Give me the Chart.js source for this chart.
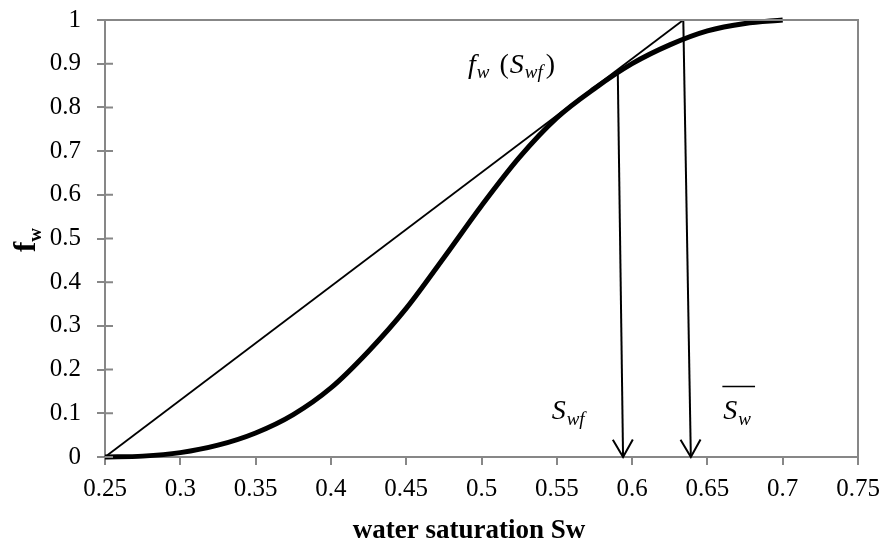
<!DOCTYPE html>
<html lang="en">
<head>
    <meta charset="UTF-8">
    <title>Fractional flow curve</title>
    <script src="https://cdn.jsdelivr.net/npm/chart.js@4.4.0/dist/chart.umd.min.js"></script>
    <style>
        html, body { margin: 0; padding: 0; background: #fff; }
        #wrap { width: 885px; height: 542px; }
    </style>
</head>
<body>
    <div id="wrap"><canvas id="fwChart" width="885" height="542"></canvas></div>
    <script>
        // fractional flow curve fw(Sw)
        const swValues = [0.25, 0.275, 0.30, 0.325, 0.35, 0.375, 0.40, 0.425, 0.45, 0.475, 0.50, 0.525, 0.55, 0.575, 0.60, 0.625, 0.65, 0.675, 0.70];
        const fwValues = [0, 0.002, 0.01, 0.027, 0.055, 0.097, 0.158, 0.242, 0.34, 0.456, 0.575, 0.685, 0.776, 0.843, 0.90, 0.943, 0.975, 0.992, 1.0];

        // tangent from the initial saturation to fw = 1
        const tangentSw = [0.25, 0.634];
        const tangentFw = [0, 1];

        // arrows down to Swf and to the average saturation behind the front
        const arrowSwfSw = [0.5905, 0.594];
        const arrowSwfFw = [0.879, 0];
        const arrowAvgSw = [0.634, 0.639];
        const arrowAvgFw = [1, 0];

        const xTicks = [0.25, 0.3, 0.35, 0.4, 0.45, 0.5, 0.55, 0.6, 0.65, 0.7, 0.75];
        const yTicks = [0, 0.1, 0.2, 0.3, 0.4, 0.5, 0.6, 0.7, 0.8, 0.9, 1];

        const serif = '"Liberation Serif", "Times New Roman", serif';
        const axisGray = '#878787';

        const toPoints = (xs, ys) => xs.map((x, i) => ({ x: x, y: ys[i] }));

        // draws a row of text pieces (used for subscripts)
        function drawRuns(ctx, x, y, runs) {
            let cx = x;
            runs.forEach(r => {
                ctx.font = (r.style || '') + ' ' + r.size + 'px ' + serif;
                ctx.fillText(r.t, cx, y + (r.dy || 0));
                cx += ctx.measureText(r.t).width + (r.gap || 0);
            });
            return cx - x;
        }

        const decorations = {
            id: 'decorations',
            afterDatasetsDraw(chart) {
                const ctx = chart.ctx;
                const area = chart.chartArea;
                const xs = chart.scales.x, ys = chart.scales.y;
                ctx.save();

                // top and right frame lines
                ctx.strokeStyle = axisGray;
                ctx.lineWidth = 2;
                ctx.beginPath();
                ctx.moveTo(area.left, area.top);
                ctx.lineTo(area.right, area.top);
                ctx.lineTo(area.right, area.bottom);
                ctx.stroke();

                // inner half of the y ticks
                ctx.beginPath();
                yTicks.forEach(v => {
                    const py = ys.getPixelForValue(v);
                    ctx.moveTo(area.left, py);
                    ctx.lineTo(area.left + 8, py);
                });
                ctx.stroke();

                // arrowheads on the arrow datasets
                ctx.strokeStyle = '#000';
                ctx.lineWidth = 2;
                chart.data.datasets.forEach((ds, i) => {
                    if (!ds.arrow) return;
                    const pts = chart.getDatasetMeta(i).data;
                    const a = pts[pts.length - 2], b = pts[pts.length - 1];
                    const ang = Math.atan2(b.y - a.y, b.x - a.x);
                    const len = 20, spread = Math.PI / 6;
                    ctx.beginPath();
                    ctx.moveTo(b.x - len * Math.cos(ang - spread), b.y - len * Math.sin(ang - spread));
                    ctx.lineTo(b.x, b.y);
                    ctx.lineTo(b.x - len * Math.cos(ang + spread), b.y - len * Math.sin(ang + spread));
                    ctx.stroke();
                });

                ctx.fillStyle = '#000';
                ctx.textBaseline = 'alphabetic';
                ctx.textAlign = 'left';

                // fw(Swf) label
                drawRuns(ctx, xs.getPixelForValue(0.491), ys.getPixelForValue(0.879), [
                    { t: 'f', size: 28, style: 'italic', gap: 1 },
                    { t: 'w', size: 19, style: 'italic', dy: 5, gap: 3 },
                    { t: ' (', size: 28, gap: 1 },
                    { t: 'S', size: 28, style: 'italic', gap: 1 },
                    { t: 'wf', size: 19, style: 'italic', dy: 5, gap: 3 },
                    { t: ')', size: 28 }
                ]);

                // Swf label
                drawRuns(ctx, xs.getPixelForValue(0.5466), ys.getPixelForValue(0.086), [
                    { t: 'S', size: 28, style: 'italic', gap: 1 },
                    { t: 'wf', size: 19, style: 'italic', dy: 6 }
                ]);

                // average saturation label with overbar
                const ax = xs.getPixelForValue(0.6606), ay = ys.getPixelForValue(0.086);
                const w = drawRuns(ctx, ax, ay, [
                    { t: 'S', size: 28, style: 'italic', gap: 1 },
                    { t: 'w', size: 19, style: 'italic', dy: 6 }
                ]);
                ctx.lineWidth = 1.5;
                ctx.beginPath();
                ctx.moveTo(ax - 1, ay - 33);
                ctx.lineTo(ax + w + 4, ay - 33);
                ctx.stroke();

                // axis titles
                ctx.textAlign = 'center';
                ctx.font = 'bold 27px ' + serif;
                ctx.fillText('water saturation Sw', 469, 538);

                ctx.save();
                ctx.translate(35, 252);
                ctx.rotate(-Math.PI / 2);
                ctx.textAlign = 'left';
                drawRuns(ctx, 0, 0, [
                    { t: 'f', size: 31, style: 'bold' },
                    { t: 'w', size: 19, style: 'bold', dy: 6 }
                ]);
                ctx.restore();

                ctx.restore();
            }
        };

        new Chart(document.getElementById('fwChart'), {
            type: 'scatter',
            data: {
                datasets: [
                    { label: 'fw', data: toPoints(swValues, fwValues), showLine: true, borderColor: '#000', borderWidth: 5, pointRadius: 0, cubicInterpolationMode: 'monotone', clip: false },
                    { label: 'tangent', data: toPoints(tangentSw, tangentFw), showLine: true, borderColor: '#000', borderWidth: 1.8, pointRadius: 0, clip: false },
                    { label: 'Swf', data: toPoints(arrowSwfSw, arrowSwfFw), showLine: true, borderColor: '#000', borderWidth: 2, pointRadius: 0, clip: false, arrow: true },
                    { label: 'Sw avg', data: toPoints(arrowAvgSw, arrowAvgFw), showLine: true, borderColor: '#000', borderWidth: 2, pointRadius: 0, clip: false, arrow: true }
                ]
            },
            options: {
                responsive: false,
                animation: false,
                layout: { padding: { top: 20, right: 27, left: 0, bottom: 0 } },
                plugins: { legend: { display: false }, tooltip: { enabled: false } },
                scales: {
                    x: {
                        type: 'linear',
                        min: 0.25,
                        max: 0.75,
                        afterFit: s => { s.height = 85; s.paddingLeft = 0; s.paddingRight = 0; },
                        afterBuildTicks: s => { s.ticks = xTicks.map(v => ({ value: v })); },
                        ticks: {
                            color: '#000',
                            padding: 9,
                            font: { family: serif, size: 25 },
                            callback: v => String(Number(v.toFixed(2)))
                        },
                        grid: { drawOnChartArea: false, tickLength: 8, color: axisGray, lineWidth: 2 },
                        border: { color: axisGray, width: 2 }
                    },
                    y: {
                        min: 0,
                        max: 1,
                        afterFit: s => { s.width = 105; s.paddingTop = 0; s.paddingBottom = 0; },
                        afterBuildTicks: s => { s.ticks = yTicks.map(v => ({ value: v })); },
                        ticks: {
                            color: '#000',
                            padding: 16,
                            font: { family: serif, size: 25 },
                            callback: v => String(Number(v.toFixed(1)))
                        },
                        grid: { drawOnChartArea: false, tickLength: 8, color: axisGray, lineWidth: 2 },
                        border: { color: axisGray, width: 2 }
                    }
                }
            },
            plugins: [decorations]
        });
    </script>
</body>
</html>
